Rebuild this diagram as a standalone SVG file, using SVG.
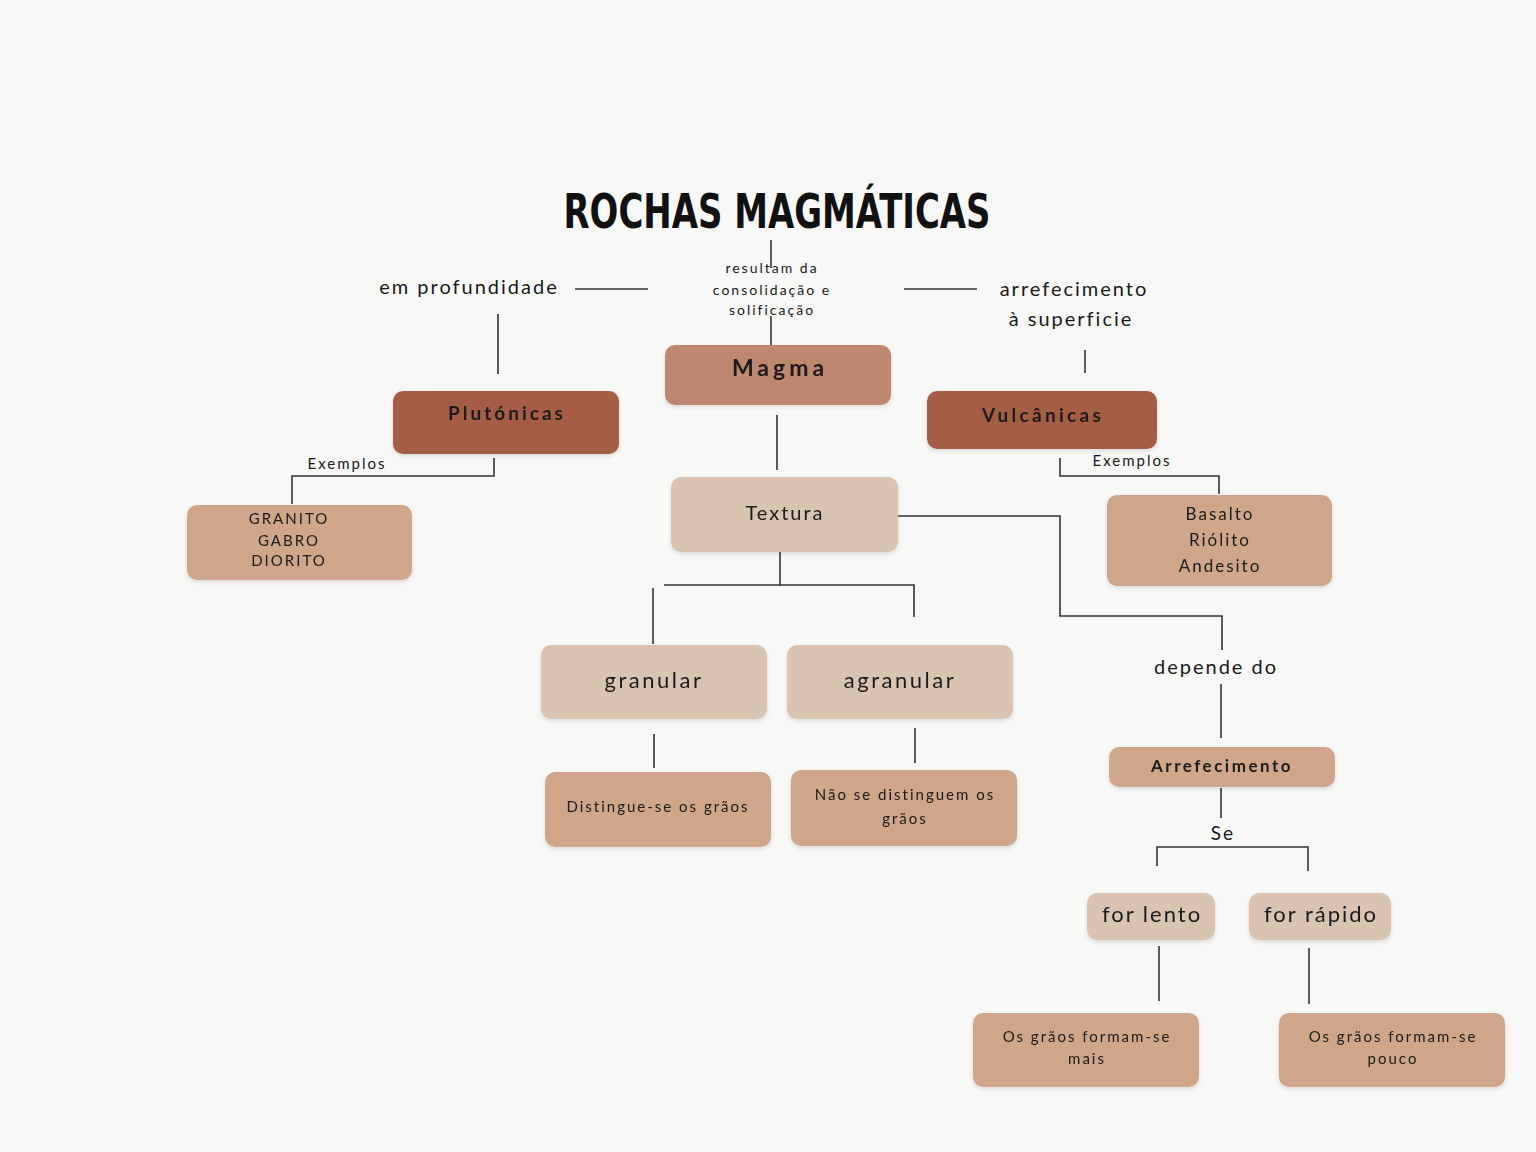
<svg xmlns="http://www.w3.org/2000/svg" width="1536" height="1152" viewBox="0 0 1536 1152">
<defs>
<filter id="sh" x="-10%" y="-20%" width="120%" height="150%">
<feDropShadow dx="0" dy="2" stdDeviation="2" flood-color="#000" flood-opacity="0.12"/>
</filter>
<style>
.t{font-family:"Lato","Noto Sans","Liberation Sans",sans-serif;fill:#1a1a1a;text-anchor:middle;letter-spacing:2px}
.b{font-weight:bold}
.ln{stroke:#333;stroke-width:1.6;fill:none}
.dark{fill:#a65d45}
.mag{fill:#c0876f}
.light{fill:#d9c3b1}
.mid{fill:#cfa68a}
</style>
</defs>
<rect width="1536" height="1152" fill="#f8f8f7"/>
<text id="title" x="777" y="228" class="t" style="font-family:'DejaVu Sans Condensed','DejaVu Sans',sans-serif;font-weight:900;font-size:48px;fill:#111;letter-spacing:0" textLength="427" lengthAdjust="spacingAndGlyphs">ROCHAS MAGMÁTICAS</text>
<g id="connectors" class="ln">
<path d="M771 240V268"/>
<path d="M771 316V345"/>
<path d="M575 289H648"/>
<path d="M904 289H977"/>
<path d="M498 314V374"/>
<path d="M1085 350V373"/>
<path d="M777 415V470"/>
<path d="M494 458V476H292V504"/>
<path d="M1060 458V476H1219V494"/>
<path d="M898 516H1060V616H1222V650"/>
<path d="M1221 684V738"/>
<path d="M780 552V586"/>
<path d="M664 585H914V617"/>
<path d="M653 588V644"/>
<path d="M654 734V768"/>
<path d="M915 728V763"/>
<path d="M1221 788V818"/>
<path d="M1157 866V847H1308V871"/>
<path d="M1159 946V1001"/>
<path d="M1309 948V1004"/>
</g>
<g id="labels">
<text class="t" x="772" y="273" font-size="14">resultam da</text>
<text class="t" x="772" y="295" font-size="14">consolidação e</text>
<text class="t" x="772" y="315" font-size="14">solificação</text>
<text class="t" x="469" y="294" font-size="20">em profundidade</text>
<text class="t" x="1074" y="296" font-size="20">arrefecimento</text>
<text class="t" x="1071" y="326" font-size="20">à superficie</text>
<text class="t" x="347" y="469" font-size="15">Exemplos</text>
<text class="t" x="1132" y="466" font-size="15">Exemplos</text>
<text class="t" x="1216" y="674" font-size="20">depende do</text>
<text class="t" x="1223" y="840" font-size="19">Se</text>
</g>
<g id="magma" filter="url(#sh)"><rect x="665" y="345" width="226" height="60" rx="10" class="mag"/><text class="t b" x="780" y="376" font-size="23" style="letter-spacing:4px">Magma</text></g>
<g id="plutonicas" filter="url(#sh)"><rect x="393" y="391" width="226" height="63" rx="10" class="dark"/><text class="t b" x="507" y="420" font-size="19" style="letter-spacing:3px">Plutónicas</text></g>
<g id="vulcanicas" filter="url(#sh)"><rect x="927" y="391" width="230" height="58" rx="10" class="dark"/><text class="t b" x="1043" y="422" font-size="19" style="letter-spacing:3.3px">Vulcânicas</text></g>
<g id="textura" filter="url(#sh)"><rect x="671" y="477" width="227" height="75" rx="10" class="light"/><text class="t" x="785" y="520" font-size="20">Textura</text></g>
<g id="exemplos-plut" filter="url(#sh)"><rect x="187" y="505" width="225" height="75" rx="10" class="mid"/>
<text class="t" x="289" y="524" font-size="15">GRANITO</text>
<text class="t" x="289" y="546" font-size="15">GABRO</text>
<text class="t" x="289" y="566" font-size="15">DIORITO</text></g>
<g id="exemplos-vulc" filter="url(#sh)"><rect x="1107" y="495" width="225" height="91" rx="10" class="mid"/>
<text class="t" x="1220" y="520" font-size="17">Basalto</text>
<text class="t" x="1220" y="546" font-size="17">Riólito</text>
<text class="t" x="1220" y="572" font-size="17">Andesito</text></g>
<g id="granular" filter="url(#sh)"><rect x="541" y="645" width="226" height="74" rx="10" class="light"/><text class="t" x="654" y="688" font-size="22" style="letter-spacing:2.5px">granular</text></g>
<g id="agranular" filter="url(#sh)"><rect x="787" y="645" width="226" height="74" rx="10" class="light"/><text class="t" x="900" y="688" font-size="22" style="letter-spacing:2.5px">agranular</text></g>
<g id="distingue" filter="url(#sh)"><rect x="545" y="772" width="226" height="75" rx="10" class="mid"/><text class="t" x="658" y="812" font-size="15">Distingue-se os grãos</text></g>
<g id="nao-distingue" filter="url(#sh)"><rect x="791" y="770" width="226" height="76" rx="10" class="mid"/>
<text class="t" x="905" y="800" font-size="15">Não se distinguem os</text>
<text class="t" x="905" y="824" font-size="15">grãos</text></g>
<g id="arrefecimento" filter="url(#sh)"><rect x="1109" y="747" width="226" height="40" rx="10" class="mid"/><text class="t b" x="1222" y="772" font-size="17" style="letter-spacing:2.5px">Arrefecimento</text></g>
<g id="lento" filter="url(#sh)"><rect x="1087" y="893" width="128" height="47" rx="10" class="light"/><text class="t" x="1152" y="922" font-size="22">for lento</text></g>
<g id="rapido" filter="url(#sh)"><rect x="1249" y="893" width="142" height="47" rx="10" class="light"/><text class="t" x="1321" y="922" font-size="22">for rápido</text></g>
<g id="mais" filter="url(#sh)"><rect x="973" y="1013" width="226" height="74" rx="10" class="mid"/>
<text class="t" x="1087" y="1042" font-size="15">Os grãos formam-se</text>
<text class="t" x="1087" y="1064" font-size="15">mais</text></g>
<g id="pouco" filter="url(#sh)"><rect x="1279" y="1013" width="226" height="74" rx="10" class="mid"/>
<text class="t" x="1393" y="1042" font-size="15">Os grãos formam-se</text>
<text class="t" x="1393" y="1064" font-size="15">pouco</text></g>
</svg>
